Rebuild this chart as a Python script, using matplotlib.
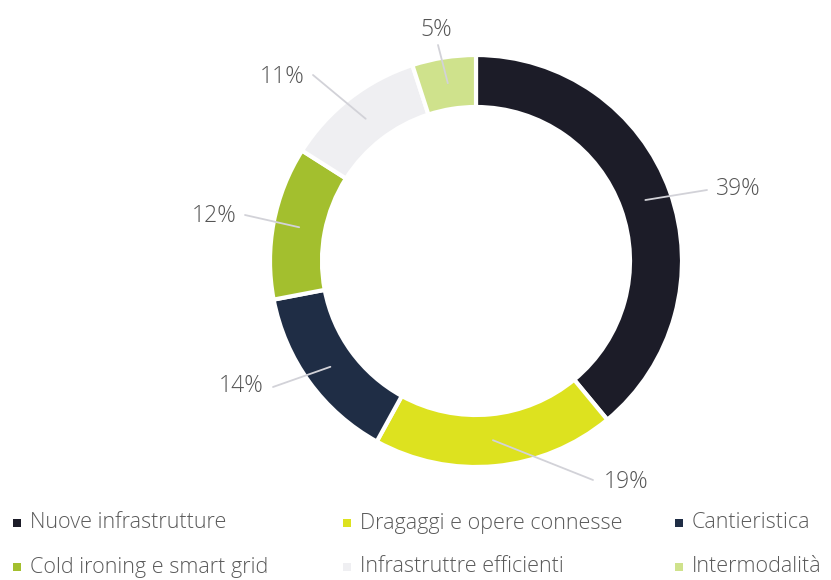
import numpy as np
import matplotlib.pyplot as plt

categories = ['Nuove infrastrutture', 'Dragaggi e opere connesse', 'Cantieristica',
              'Cold ironing e smart grid', 'Infrastruttre efficienti', 'Intermodalità']
shares = [39, 19, 14, 12, 11, 5]
colors = ['#1c1c28', '#dde21f', '#1f2d45', '#a3bf2e', '#efeff2', '#cfe28c']

# pixel layout (y measured from the top of the image)
W, H = 831, 580
cx, cy = 476, 261
r_out, ring = 206, 52
label_pos = [(738, 189), (626, 482), (241, 386), (214, 216), (282, 77), (436, 30)]
line_end = [(707, 190), (593, 480), (273, 387), (245, 215), (313, 75), (438, 45)]

plt.rcParams['font.family'] = ['Open Sans', 'DejaVu Sans']

fig = plt.figure(figsize=(W / 100, H / 100), dpi=100)
ax = fig.add_axes([0, 0, 1, 1])

wedges, _ = ax.pie(shares, colors=colors, startangle=90, counterclock=False,
                   radius=r_out, center=(cx, H - cy),
                   wedgeprops=dict(width=ring, edgecolor='white', linewidth=3))
ax.set_xlim(0, W)
ax.set_ylim(0, H)
ax.axis('off')

for w, v, (lx, ly), (ex, ey) in zip(wedges, shares, label_pos, line_end):
    ang = np.deg2rad((w.theta1 + w.theta2) / 2)
    rm = r_out - ring / 2
    sx, sy = cx + rm * np.cos(ang), H - cy + rm * np.sin(ang)
    ax.plot([sx, ex], [sy, H - ey], color='#d2d2d8', lw=1.3, solid_capstyle='round')
    ax.text(lx, H - ly, f'{v}%', ha='center', va='center', fontsize=16.5,
            color='#555555', fontweight='light')

# legend, two rows of three
leg_x = [17, 347, 679]
leg_y = [523, 567]
for i, (name, c) in enumerate(zip(categories, colors)):
    row, col = divmod(i, 3)
    x, y = leg_x[col], H - leg_y[row]
    ax.scatter([x], [y], marker='s', s=34, color=c, edgecolors='none')
    ax.text(x + 13, y, name, ha='left', va='center', fontsize=15.5,
            color='#5a5a5a', fontweight='light')

fig.savefig('out.png', dpi=100)
